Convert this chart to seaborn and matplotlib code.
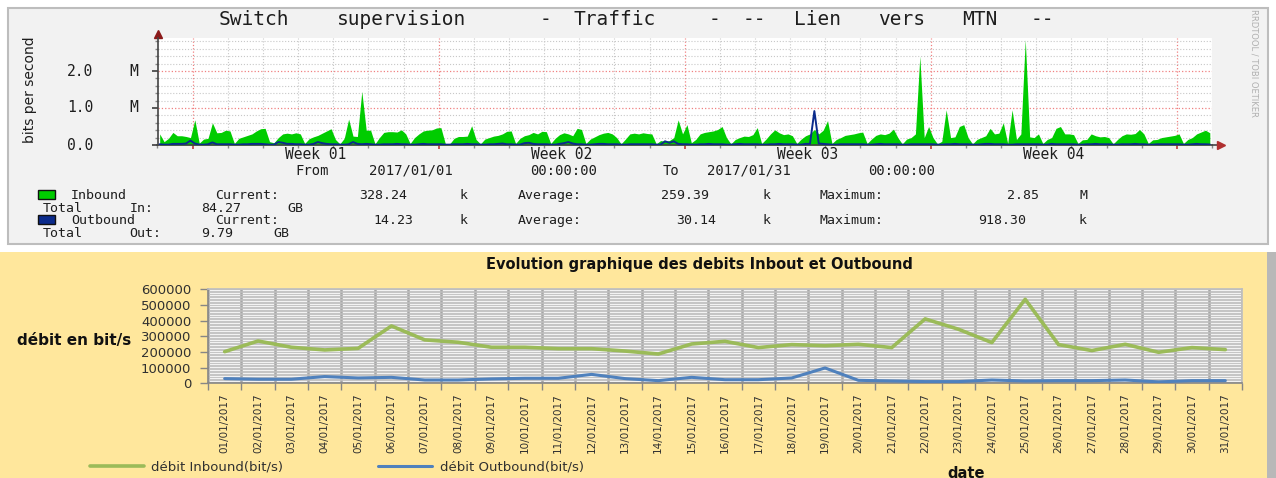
import re
import numpy as np
import pandas as pd
import matplotlib
matplotlib.use('Agg')
import matplotlib.pyplot as plt
import matplotlib.dates as mdates
from matplotlib.patches import Rectangle
from matplotlib.ticker import MultipleLocator
import seaborn as sns

W, H = 1276, 478

# ---------------------------------------------------------------
# Top graph (rrdtool): 3-hour averages in kbit/s, one row per day
# from 2017/01/01 to 2017/01/30 (8 values per day)
# ---------------------------------------------------------------
inbound_kbps = [
    [300, 90, 180, 340, 250, 250, 230, 200],
    [680, 50, 160, 180, 600, 330, 340, 400],
    [380, 40, 180, 220, 260, 300, 380, 440],
    [450, 90, 60, 200, 300, 320, 300, 330],
    [300, 40, 170, 220, 260, 320, 380, 440],
    [150, 30, 180, 700, 240, 230, 1450, 400],
    [400, 30, 200, 340, 360, 360, 350, 410],
    [300, 40, 200, 300, 380, 400, 410, 460],
    [470, 40, 30, 180, 230, 230, 240, 520],
    [150, 30, 160, 200, 240, 260, 300, 370],
    [380, 40, 180, 250, 280, 340, 300, 370],
    [360, 40, 180, 280, 330, 300, 250, 450],
    [420, 40, 160, 220, 280, 320, 340, 300],
    [200, 30, 160, 300, 320, 300, 330, 310],
    [300, 30, 120, 100, 120, 200, 680, 300],
    [550, 60, 150, 300, 340, 360, 380, 420],
    [500, 200, 30, 150, 200, 240, 230, 280],
    [470, 40, 160, 300, 410, 330, 280, 300],
    [250, 40, 160, 250, 300, 420, 300, 400],
    [660, 40, 150, 200, 260, 280, 300, 330],
    [350, 40, 160, 260, 300, 280, 320, 430],
    [200, 30, 160, 200, 300, 2400, 200, 500],
    [200, 30, 100, 950, 200, 220, 500, 550],
    [200, 30, 150, 200, 250, 450, 300, 320],
    [600, 40, 950, 150, 300, 2850, 220, 200],
    [300, 40, 150, 200, 450, 500, 300, 300],
    [280, 40, 140, 150, 300, 250, 220, 230],
    [200, 30, 150, 250, 300, 290, 310, 420],
    [300, 40, 140, 150, 200, 220, 240, 260],
    [300, 40, 150, 200, 300, 350, 400, 330],
]

outbound_kbps = [
    [20, 10, 10, 30, 30, 30, 40, 120],
    [40, 10, 10, 20, 70, 20, 20, 20],
    [20, 10, 10, 20, 20, 30, 30, 30],
    [20, 10, 10, 80, 60, 30, 30, 20],
    [20, 10, 10, 30, 80, 50, 30, 20],
    [20, 10, 10, 20, 80, 30, 20, 30],
    [20, 10, 10, 20, 20, 20, 30, 20],
    [20, 10, 10, 20, 30, 20, 20, 20],
    [20, 10, 10, 20, 20, 20, 30, 20],
    [20, 10, 10, 20, 20, 30, 40, 20],
    [20, 10, 10, 50, 60, 30, 20, 20],
    [20, 10, 10, 30, 50, 80, 40, 20],
    [20, 10, 10, 20, 30, 30, 20, 20],
    [20, 10, 10, 20, 20, 20, 20, 20],
    [20, 10, 10, 100, 60, 100, 30, 20],
    [20, 10, 10, 20, 20, 30, 20, 20],
    [20, 10, 10, 20, 30, 20, 20, 20],
    [20, 10, 10, 20, 20, 30, 20, 20],
    [20, 10, 10, 30, 30, 918, 40, 30],
    [20, 10, 10, 20, 20, 20, 20, 20],
    [20, 10, 10, 20, 30, 20, 20, 20],
    [20, 10, 10, 20, 20, 20, 20, 20],
    [20, 10, 10, 20, 20, 30, 20, 20],
    [20, 10, 10, 20, 30, 30, 20, 20],
    [20, 10, 10, 20, 20, 20, 20, 20],
    [20, 10, 10, 30, 20, 20, 20, 20],
    [20, 10, 10, 20, 20, 30, 20, 20],
    [20, 10, 10, 20, 20, 20, 30, 20],
    [20, 10, 10, 20, 20, 20, 20, 20],
    [20, 10, 10, 20, 30, 20, 20, 14],
]

week_labels = ['Week 01', 'Week 02', 'Week 03', 'Week 04']
week_mondays = ['2017-01-02', '2017-01-09', '2017-01-16', '2017-01-23']

# ---------------------------------------------------------------
# Bottom graph (Excel): daily averages in bit/s
# ---------------------------------------------------------------
dates = ['01/01/2017', '02/01/2017', '03/01/2017', '04/01/2017', '05/01/2017',
         '06/01/2017', '07/01/2017', '08/01/2017', '09/01/2017', '10/01/2017',
         '11/01/2017', '12/01/2017', '13/01/2017', '14/01/2017', '15/01/2017',
         '16/01/2017', '17/01/2017', '18/01/2017', '19/01/2017', '20/01/2017',
         '21/01/2017', '22/01/2017', '23/01/2017', '24/01/2017', '25/01/2017',
         '26/01/2017', '27/01/2017', '28/01/2017', '29/01/2017', '30/01/2017',
         '31/01/2017']
debit_in = [202000, 270000, 230000, 213000, 223000, 366000, 277000, 262000,
            230000, 230000, 221000, 221000, 206000, 187000, 251000, 268000,
            228000, 247000, 240000, 249000, 228000, 411000, 345000, 260000,
            536000, 247000, 209000, 249000, 198000, 228000, 215000]
debit_out = [30000, 26000, 26000, 43000, 34000, 38000, 21000, 21000, 28000,
             32000, 32000, 57000, 30000, 17000, 38000, 23000, 23000, 34000,
             98000, 19000, 15000, 11000, 11000, 21000, 15000, 17000, 17000,
             21000, 9000, 17000, 17000]


def fx(x):
    return x / W


def fy(y):
    return 1 - y / H


sns.set_theme(style='white')
plt.rcParams['font.family'] = ['DejaVu Sans']

fig = plt.figure(figsize=(W / 100, H / 100), dpi=100)
fig.patch.set_facecolor('white')

# background panels (behind the axes)
fig.patches.append(Rectangle((fx(8), fy(244)), (1268 - 8) / W, (244 - 8) / H,
                             transform=fig.transFigure, fc='#F2F2F2', ec='#BDBDBD',
                             lw=1.5, zorder=-5))
fig.patches.append(Rectangle((0, 0), fx(1267), (478 - 252) / H,
                             transform=fig.transFigure, fc='#FFE79C', ec='none', zorder=-5))
fig.patches.append(Rectangle((fx(1267), 0), fx(9), (478 - 252) / H,
                             transform=fig.transFigure, fc='#B8B8B8', ec='none', zorder=-5))

MONO = 'DejaVu Sans Mono'
TXT = '#1E1E1E'


def mono(text, x0, y, cw, size, color=TXT):
    # rrdtool text is a stretched monospace: place each word on the char grid
    # y is the vertical centre of the capitals
    for m in re.finditer(r'\S+', text):
        fig.text(fx(x0 + m.start() * cw), fy(y + size * 0.5), m.group(), fontsize=size,
                 family=MONO, color=color, ha='left', va='baseline')


# ---------------- top graph ----------------
t = pd.date_range('2017-01-01 01:30', periods=240, freq='3h')
df_top = pd.DataFrame({'time': t,
                       'inbound': np.ravel(inbound_kbps) * 1000.0,
                       'outbound': np.ravel(outbound_kbps) * 1000.0})

ax1 = fig.add_axes([fx(157.5), fy(145), (1212 - 157.5) / W, (145 - 37.7) / H])
ax1.set_facecolor('white')
ax1.fill_between(df_top['time'], 0, df_top['inbound'], color='#00CC00', lw=0, zorder=2)
sns.lineplot(data=df_top, x='time', y='outbound', ax=ax1, color='#0B2B8C',
             lw=1.4, zorder=3)
ax1.set_xlim(pd.Timestamp('2017-01-01'), pd.Timestamp('2017-01-31'))
ax1.set_ylim(0, 2.9e6)
ax1.xaxis.set_major_locator(mdates.WeekdayLocator(byweekday=mdates.MO))
ax1.xaxis.set_minor_locator(mdates.DayLocator())
ax1.yaxis.set_major_locator(MultipleLocator(1e6))
ax1.yaxis.set_minor_locator(MultipleLocator(2e5))
ax1.grid(which='minor', color='#C8C8C8', ls=':', lw=0.8)
ax1.grid(which='major', color='#F08080', ls=':', lw=0.9)
ax1.set_axisbelow(True)
ax1.set_xticklabels([])
ax1.set_yticklabels([])
ax1.set_xlabel('')
ax1.set_ylabel('')
ax1.tick_params(axis='y', which='major', left=True, length=4, color='#444444')
ax1.tick_params(axis='y', which='minor', left=True, length=2, color='#888888')
ax1.tick_params(axis='x', which='major', bottom=True, length=3, color='#C04040')
ax1.tick_params(axis='x', which='minor', bottom=True, length=2, color='#888888')
for s in ['top', 'right']:
    ax1.spines[s].set_visible(False)
for s in ['left', 'bottom']:
    ax1.spines[s].set_color('#444444')
    ax1.spines[s].set_linewidth(1.2)
# axis arrows
ax1.plot([0, 0], [1.0, 1.03], transform=ax1.transAxes, color='#444444', lw=1.2, clip_on=False)
ax1.plot([0], [1.03], transform=ax1.transAxes, marker='^', ms=6, color='#8B1A1A', clip_on=False)
ax1.plot([1.0, 1.009], [0, 0], transform=ax1.transAxes, color='#444444', lw=1.2, clip_on=False)
ax1.plot([1.009], [0], transform=ax1.transAxes, marker='>', ms=6, color='#B03030', clip_on=False)

# week labels at mid-week
for lab, mon in zip(week_labels, week_mondays):
    xc = pd.Timestamp(mon) + pd.Timedelta(hours=84)
    ax1.text(mdates.date2num(xc), -0.085, lab, transform=ax1.get_xaxis_transform(),
             ha='center', va='center', family=MONO, fontsize=10.5, color=TXT)

# y tick labels (left aligned, as rrdtool does)
for lab, unit, yy in [('2.0', 'M', 71), ('1.0', 'M', 108), ('0.0', '', 145)]:
    fig.text(fx(67), fy(yy), lab, fontsize=10.5, family=MONO, color=TXT, ha='left', va='center')
    if unit:
        fig.text(fx(129), fy(yy), unit, fontsize=10.5, family=MONO, color=TXT, ha='left', va='center')

fig.text(fx(30), fy(90), 'bits per second', rotation=90, fontsize=10, color=TXT,
         ha='center', va='center', family='DejaVu Sans Condensed')
fig.text(fx(1254), fy(9), 'RRDTOOL / TOBI OETIKER', rotation=270, fontsize=6,
         color='#B0B0B0', ha='center', va='top')

mono('Switch supervision - Traffic - -- Lien vers MTN --', 219, 18, 16.9, 14)
mono('From 2017/01/01 00:00:00 To 2017/01/31 00:00:00', 295, 170, 14.7, 10)
mono('Inbound   Current:  328.24 k   Average:  259.39 k   Maximum:     2.85 M', 71, 194, 14.4, 9.5)
mono('Total In:  84.27 GB', 43, 207, 14.4, 9.5)
mono('Outbound  Current:   14.23 k   Average:   30.14 k   Maximum:   918.30 k', 71, 219, 14.4, 9.5)
mono('Total Out: 9.79 GB', 43, 232, 14.4, 9.5)
fig.patches.append(Rectangle((fx(38), fy(198.5)), 17 / W, 9 / H, transform=fig.transFigure,
                             fc='#00CC00', ec='#111111', lw=1.0, zorder=3))
fig.patches.append(Rectangle((fx(38), fy(223.5)), 17 / W, 9 / H, transform=fig.transFigure,
                             fc='#0B2B8C', ec='#111111', lw=1.0, zorder=3))

# ---------------- bottom graph ----------------
df_bot = pd.DataFrame({'pos': range(len(dates)), 'date': dates,
                       'debit_in': debit_in, 'debit_out': debit_out})

ax2 = fig.add_axes([fx(208), fy(383.3), (1242 - 208) / W, (383.3 - 289.3) / H])
ax2.set_facecolor('#F2F2F2')
sns.lineplot(data=df_bot, x='pos', y='debit_in', ax=ax2, color='#9BBB59', lw=2.6,
             label='débit Inbound(bit/s)', zorder=4)
sns.lineplot(data=df_bot, x='pos', y='debit_out', ax=ax2, color='#4F81BD', lw=2.2,
             label='débit Outbound(bit/s)', zorder=4)
ax2.set_xlim(-0.5, len(dates) - 0.5)
ax2.set_ylim(0, 600000)
ax2.set_yticks(range(0, 600001, 100000))
ax2.set_yticklabels([str(v) for v in range(0, 600001, 100000)])
ax2.yaxis.set_minor_locator(MultipleLocator(10000))
ax2.set_xticks(df_bot['pos'])
ax2.set_xticklabels(dates, rotation=90, fontsize=7.5, color='#303030',
                    family=['Liberation Sans Narrow', 'DejaVu Sans'])
ax2.set_xticks(np.arange(-0.5, len(dates)), minor=True)
ax2.grid(which='minor', axis='y', color='#BDBDBD', lw=0.6)
ax2.grid(which='major', axis='y', color='#BDBDBD', lw=0.6)
ax2.grid(which='minor', axis='x', color='#A6A6A6', lw=1.8)
ax2.set_axisbelow(True)
ax2.tick_params(axis='x', which='major', length=0, pad=7)
ax2.tick_params(axis='x', which='minor', bottom=True, length=5, color='#868686', width=1)
ax2.tick_params(axis='y', which='major', left=True, length=6, color='#868686', width=1,
                labelsize=9.5, labelcolor='#303030', pad=6)
ax2.tick_params(axis='y', which='minor', left=False)
ax2.set_xlabel('')
ax2.set_ylabel('')
for s in ['top', 'right']:
    ax2.spines[s].set_color('#BFBFBF')
for s in ['left', 'bottom']:
    ax2.spines[s].set_color('#868686')
    ax2.spines[s].set_linewidth(1.2)

ax2.legend(loc='center left', bbox_to_anchor=(fx(90), fy(467)), bbox_transform=fig.transFigure,
           ncol=2, frameon=False, fontsize=9.5, handlelength=4.1, handletextpad=0.55,
           columnspacing=7.2, borderpad=0, borderaxespad=0, labelcolor='#303030')

fig.text(fx(699), fy(265), 'Evolution graphique des debits Inbout et Outbound',
         fontsize=10.5, fontweight='bold', color='#111111', ha='center', va='center')
fig.text(fx(17), fy(340), 'débit en bit/s', fontsize=11, fontweight='bold',
         color='#111111', ha='left', va='center')
fig.text(fx(966), fy(473), 'date', fontsize=10.5, fontweight='bold',
         color='#111111', ha='center', va='center')

fig.savefig('out.png', dpi=100)
